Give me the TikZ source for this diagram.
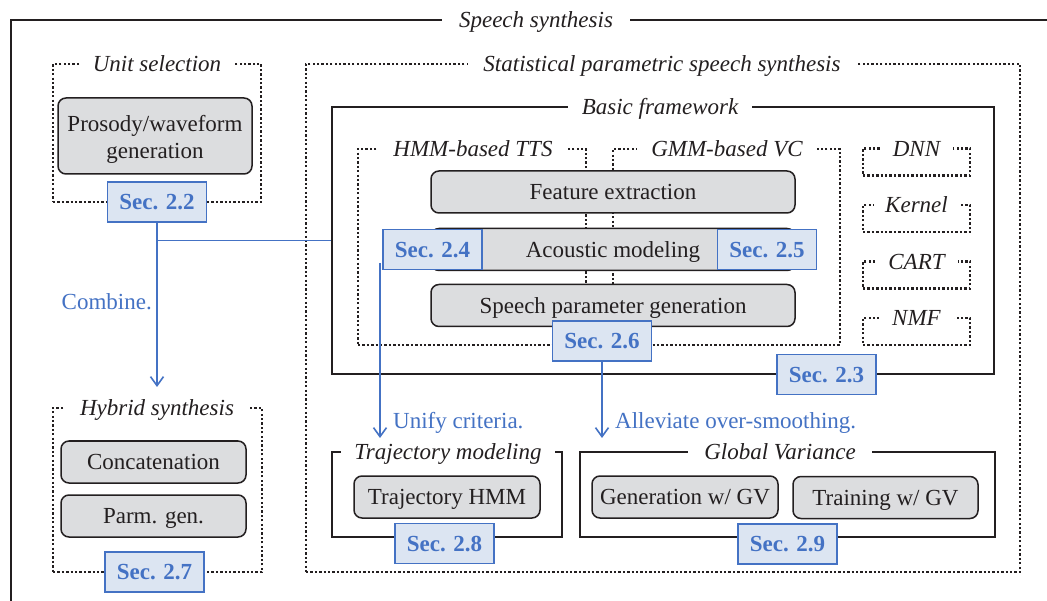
\documentclass[tikz,border=0pt]{standalone}
\usepackage{fontspec}
\setmainfont{Liberation Serif}
\usetikzlibrary{arrows.meta}
\definecolor{secblue}{HTML}{4472C4}
\definecolor{secfill}{HTML}{DCE5F2}
\definecolor{boxgray}{HTML}{DCDDDF}
\definecolor{ink}{HTML}{231F20}
\begin{document}
\begin{tikzpicture}[x=1pt,y=-1pt,
  font=\fontsize{23}{27}\selectfont, text=ink,
  frame/.style={draw=ink, line width=2.7pt, inner sep=0pt},
  dotframe/.style={draw=ink, line width=2.5pt, dash pattern=on 2.3pt off 2.1pt, inner sep=0pt},
  gbox/.style={draw=ink, fill=boxgray, rounded corners=8pt, line width=1.5pt, inner sep=0pt,
    text height=15.5pt, text depth=0pt, minimum height=42pt},
  secbox/.style={draw=secblue, fill=secfill, line width=1.3pt, text=secblue,
    font=\fontsize{23}{27}\selectfont\bfseries, minimum width=99pt, minimum height=40pt,
    inner sep=0pt, text height=15.5pt, text depth=0pt},
  ttl/.style={fill=white, font=\fontsize{23}{27}\selectfont\itshape, inner xsep=14pt,
    inner ysep=1.5pt, text height=15.5pt, text depth=0pt},
  bline/.style={draw=secblue, line width=1.6pt},
  barrow/.style={bline, -{Straight Barb[length=9pt,width=13pt,line width=1.6pt]}},
  blabel/.style={text=secblue, inner sep=0pt, text height=15.5pt, text depth=0pt}]
\useasboundingbox (0,0) rectangle (1047,601);
\fill[white] (0,0) rectangle (1047,601);

% outer frame
\coordinate (ssTR) at (1047,20);
\coordinate (ssTL) at (11,20);
\coordinate (ssBL) at (11,601);
\draw[frame, line width=2.8pt] (ssTR) -- (ssTL) -- (ssBL);

% frames
\node[dotframe, minimum width=714pt, minimum height=508pt] (sp) at (663,318) {};
\node[dotframe, minimum width=208pt, minimum height=138pt] (us) at (157,133) {};
\node[dotframe, minimum width=209pt, minimum height=164pt] (hy) at (157.5,490) {};
\node[frame, minimum width=662pt, minimum height=267pt] (bf) at (663,240.5) {};
\node[dotframe, minimum width=228pt, minimum height=196pt] (hmm) at (472,247) {};
\node[dotframe, minimum width=227pt, minimum height=196pt] (gmm) at (726.5,247) {};
\node[dotframe, minimum width=107pt, minimum height=27pt] (dnn) at (916.5,162) {};
\node[dotframe, minimum width=107pt, minimum height=27pt] (ker) at (916.5,218.5) {};
\node[dotframe, minimum width=107pt, minimum height=27pt] (cart) at (916.5,275) {};
\node[dotframe, minimum width=107pt, minimum height=27pt] (nmf) at (916.5,331.5) {};
\node[frame, minimum width=230pt, minimum height=85pt] (tm) at (447,494.5) {};
\node[frame, minimum width=415pt, minimum height=85pt] (gv) at (787.5,494.5) {};

% titles
\node[ttl, inner xsep=17pt] (sst) at (536,20) {Speech synthesis};
\node[ttl, inner xsep=15pt] (spt) at (662,64) {Statistical parametric speech synthesis};
\node[ttl, inner xsep=12.5pt] (ust) at (157,64) {Unit selection};
\node[ttl, inner xsep=16pt] (hyt) at (157,408) {Hybrid synthesis};
\node[ttl, inner xsep=13.5pt] (bft) at (660,107) {Basic framework};
\node[ttl] (hmmt) at (473,149) {HMM-based TTS};
\node[ttl] (gmmt) at (727,149) {GMM-based VC};
\node[ttl, inner xsep=13pt] (dnnt) at (916.5,148.5) {DNN};
\node[ttl, inner xsep=11pt] (kert) at (916.5,205) {Kernel};
\node[ttl, inner xsep=13pt] (cartt) at (916.5,261.5) {CART};
\node[ttl, inner xsep=13pt] (nmft) at (916.5,318) {NMF};
\node[ttl, inner xsep=13.5pt] (tmt) at (448,452) {Trajectory modeling};
\node[ttl, inner xsep=16pt] (gvt) at (780,452) {Global Variance};

% gray boxes
\node[gbox, minimum width=194pt, minimum height=76pt] (pw) at (155,136) {};
\node[align=center, inner sep=0pt] (pwt) at (155,139) {Prosody/waveform\\generation};
\node[gbox, minimum width=364pt] (fe) at (613,192) {Feature extraction};
\node[gbox, minimum width=364pt] (am) at (613,249.5) {Acoustic modeling};
\node[gbox, minimum width=364pt] (spg) at (613,305.5) {Speech parameter generation};
\node[gbox, minimum width=185pt] (cc) at (153.5,462) {Concatenation};
\node[gbox, minimum width=185pt] (pg) at (153.5,516) {Parm. gen.};
\node[gbox, minimum width=186pt] (th) at (447,497) {Trajectory HMM};
\node[gbox, minimum width=186pt] (gg) at (685,497) {Generation w/ GV};
\node[gbox, minimum width=185pt] (tg) at (885.5,497.5) {Training w/ GV};

% blue connectors
\coordinate (hyarr) at (157,387);
\coordinate (u0) at (380,263);
\coordinate (u1) at (380,438);
\node[secbox] (sec22) at (157,202) {Sec. 2.2};
\draw[bline] (sec22.south |- bf.west) -- (bf.west);
\draw[barrow] (sec22.south) -- (hyarr);
\draw[barrow] (u0) -- (u1);

\node[secbox] (sec23) at (826.5,374.5) {Sec. 2.3};
\node[secbox] (sec24) at (432.5,249.5) {Sec. 2.4};
\node[secbox] (sec25) at (767,249.5) {Sec. 2.5};
\node[secbox] (sec26) at (602,341) {Sec. 2.6};
\node[secbox] (sec27) at (154.5,572) {Sec. 2.7};
\node[secbox] (sec28) at (444.5,543.5) {Sec. 2.8};
\node[secbox] (sec29) at (787.5,544) {Sec. 2.9};
\draw[barrow] (sec26.south) -- (sec26.south |- u1);

% labels
\node[blabel, anchor=east] (lc) at (152,302) {Combine.};
\node[blabel, anchor=west] (lu) at (393,420.5) {Unify criteria.};
\node[blabel, anchor=west] (la) at (615,421) {Alleviate over-smoothing.};
\end{tikzpicture}
\end{document}
